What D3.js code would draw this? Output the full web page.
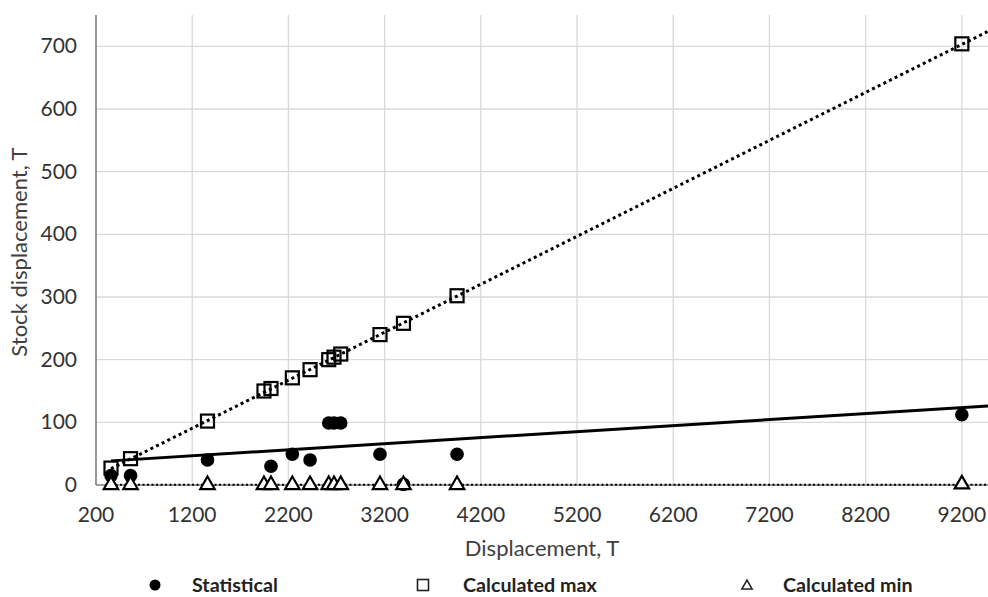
<!DOCTYPE html>
<html>
<head>
<meta charset="utf-8">
<script src="https://cdn.jsdelivr.net/npm/d3@7"></script>
<style>
  body { margin: 0; background: #fff; }
  svg { display: block; font-family: Lato, "Open Sans", sans-serif; }
  .grid line { stroke: #d9d9d9; stroke-width: 1.3; }
  .tick-label { fill: #333; font-size: 21px; }
  .axis-title { fill: #404040; font-size: 22px; }
  .legend-text { fill: #222; font-size: 19.7px; font-weight: bold; }
</style>
</head>
<body>
<svg width="988" height="597"></svg>
<script>
(function (d3) {
    'use strict';

    // displacement of each vessel (x), shared by the three series
    var displacement = [356, 559, 1359, 1946, 2019, 2241, 2425, 2619, 2674, 2744, 3152, 3396, 3953, 9200];
    var statistical   = [15, 15, 40, null, 30, 49, 40, 99, 99, 99, 49, 1, 49, 112];
    var calculatedMax = [27, 42, 102, 150, 154, 171, 184, 200, 204, 209, 240, 258, 302, 704];
    var calculatedMin = [1, 1, 1, 1, 1, 1, 1, 1, 1, 1, 1, 1, 1, 2];

    // trend lines, read at their two ends
    var trendX    = [356, 9500];
    var trendStat = [38.5, 126.5];
    var trendMax  = [26, 726];
    var trendMin  = [0.5, 0.5];

    var xTicks = [200, 1200, 2200, 3200, 4200, 5200, 6200, 7200, 8200, 9200];
    var yTicks = [0, 100, 200, 300, 400, 500, 600, 700];
    var legendNames = ['Statistical', 'Calculated max', 'Calculated min'];

    var width = 988,
        height = 597,
        margin = { top: 15, left: 96, bottom: 485 };

    var x = d3.scaleLinear().domain([200, 9500]).range([margin.left, 990.7]),
        y = d3.scaleLinear().domain([0, 750]).range([margin.bottom, margin.top]);

    var svg = d3.select('svg');

    // gridlines
    var grid = svg.append('g').attr('class', 'grid');
    grid.selectAll('.gx')
        .data(xTicks.slice(1))
        .enter().append('line')
        .attr('x1', function (d) { return x(d); })
        .attr('x2', function (d) { return x(d); })
        .attr('y1', margin.top)
        .attr('y2', margin.bottom);
    grid.selectAll('.gy')
        .data(yTicks.slice(1))
        .enter().append('line')
        .attr('x1', margin.left)
        .attr('x2', width)
        .attr('y1', function (d) { return y(d); })
        .attr('y2', function (d) { return y(d); });

    // axis lines
    svg.append('line')
        .attr('x1', x(200)).attr('x2', x(200))
        .attr('y1', margin.top).attr('y2', margin.bottom)
        .attr('stroke', '#7f7f7f').attr('stroke-width', 1.6);
    svg.append('line')
        .attr('x1', x(200)).attr('x2', width)
        .attr('y1', y(0)).attr('y2', y(0))
        .attr('stroke', '#7f7f7f').attr('stroke-width', 1.6);

    // tick labels
    svg.selectAll('.xt')
        .data(xTicks)
        .enter().append('text')
        .attr('class', 'tick-label')
        .attr('x', function (d) { return x(d); })
        .attr('y', 522)
        .attr('text-anchor', 'middle')
        .text(function (d) { return d; });
    svg.selectAll('.yt')
        .data(yTicks)
        .enter().append('text')
        .attr('class', 'tick-label')
        .attr('x', 77)
        .attr('y', function (d) { return y(d) + 7; })
        .attr('text-anchor', 'end')
        .text(function (d) { return d; });

    // axis titles
    svg.append('text')
        .attr('class', 'axis-title')
        .attr('x', 542)
        .attr('y', 556)
        .attr('text-anchor', 'middle')
        .text('Displacement, T');
    svg.append('text')
        .attr('class', 'axis-title')
        .attr('transform', 'translate(27,' + 252 + ') rotate(-90)')
        .attr('text-anchor', 'middle')
        .text('Stock displacement, T');

    // trend lines
    var line = d3.line()
        .x(function (d) { return x(d[0]); })
        .y(function (d) { return y(d[1]); });

    svg.append('path')
        .datum(d3.zip(trendX, trendMin))
        .attr('d', line)
        .attr('fill', 'none')
        .attr('stroke', '#000')
        .attr('stroke-width', 2)
        .attr('stroke-dasharray', '2,2.5');
    svg.append('path')
        .datum(d3.zip(trendX, trendMax))
        .attr('d', line)
        .attr('fill', 'none')
        .attr('stroke', '#000')
        .attr('stroke-width', 3)
        .attr('stroke-dasharray', '3,3.3');
    svg.append('path')
        .datum(d3.zip(trendX, trendStat))
        .attr('d', line)
        .attr('fill', 'none')
        .attr('stroke', '#000')
        .attr('stroke-width', 3);

    // markers
    var statData = d3.zip(displacement, statistical).filter(function (d) { return d[1] !== null; });
    svg.selectAll('.stat')
        .data(statData)
        .enter().append('circle')
        .attr('cx', function (d) { return x(d[0]); })
        .attr('cy', function (d) { return y(d[1]); })
        .attr('r', 6.8)
        .attr('fill', '#000');

    svg.selectAll('.cmax')
        .data(d3.zip(displacement, calculatedMax))
        .enter().append('rect')
        .attr('x', function (d) { return x(d[0]) - 6.5; })
        .attr('y', function (d) { return y(d[1]) - 6.5; })
        .attr('width', 13)
        .attr('height', 13)
        .attr('fill', 'none')
        .attr('stroke', '#000')
        .attr('stroke-width', 2.2);

    var tri = d3.symbol().type(d3.symbolTriangle).size(90);
    svg.selectAll('.cmin')
        .data(d3.zip(displacement, calculatedMin))
        .enter().append('path')
        .attr('d', tri)
        .attr('transform', function (d) { return 'translate(' + x(d[0]) + ',' + (y(d[1]) + 0.5) + ')'; })
        .attr('fill', '#fff')
        .attr('stroke', '#000')
        .attr('stroke-width', 2.2);

    // legend
    var legendX = [155, 423, 747],
        legendTextX = [192, 463, 783],
        legendY = 585;

    var legend = svg.selectAll('.legend')
        .data(legendNames)
        .enter().append('g')
        .attr('class', 'legend');

    legend.append('text')
        .attr('class', 'legend-text')
        .attr('x', function (d, i) { return legendTextX[i]; })
        .attr('y', legendY + 6.5)
        .text(function (d) { return d; });

    svg.append('circle')
        .attr('cx', legendX[0]).attr('cy', legendY)
        .attr('r', 5.5).attr('fill', '#000');
    svg.append('rect')
        .attr('x', legendX[1] - 5.5).attr('y', legendY - 5.5)
        .attr('width', 11).attr('height', 11)
        .attr('fill', 'none').attr('stroke', '#222').attr('stroke-width', 1.6);
    svg.append('path')
        .attr('d', d3.symbol().type(d3.symbolTriangle).size(45))
        .attr('transform', 'translate(' + legendX[2] + ',' + (legendY + 1) + ')')
        .attr('fill', '#fff').attr('stroke', '#222').attr('stroke-width', 1.6);

})(window.d3);
</script>
</body>
</html>
